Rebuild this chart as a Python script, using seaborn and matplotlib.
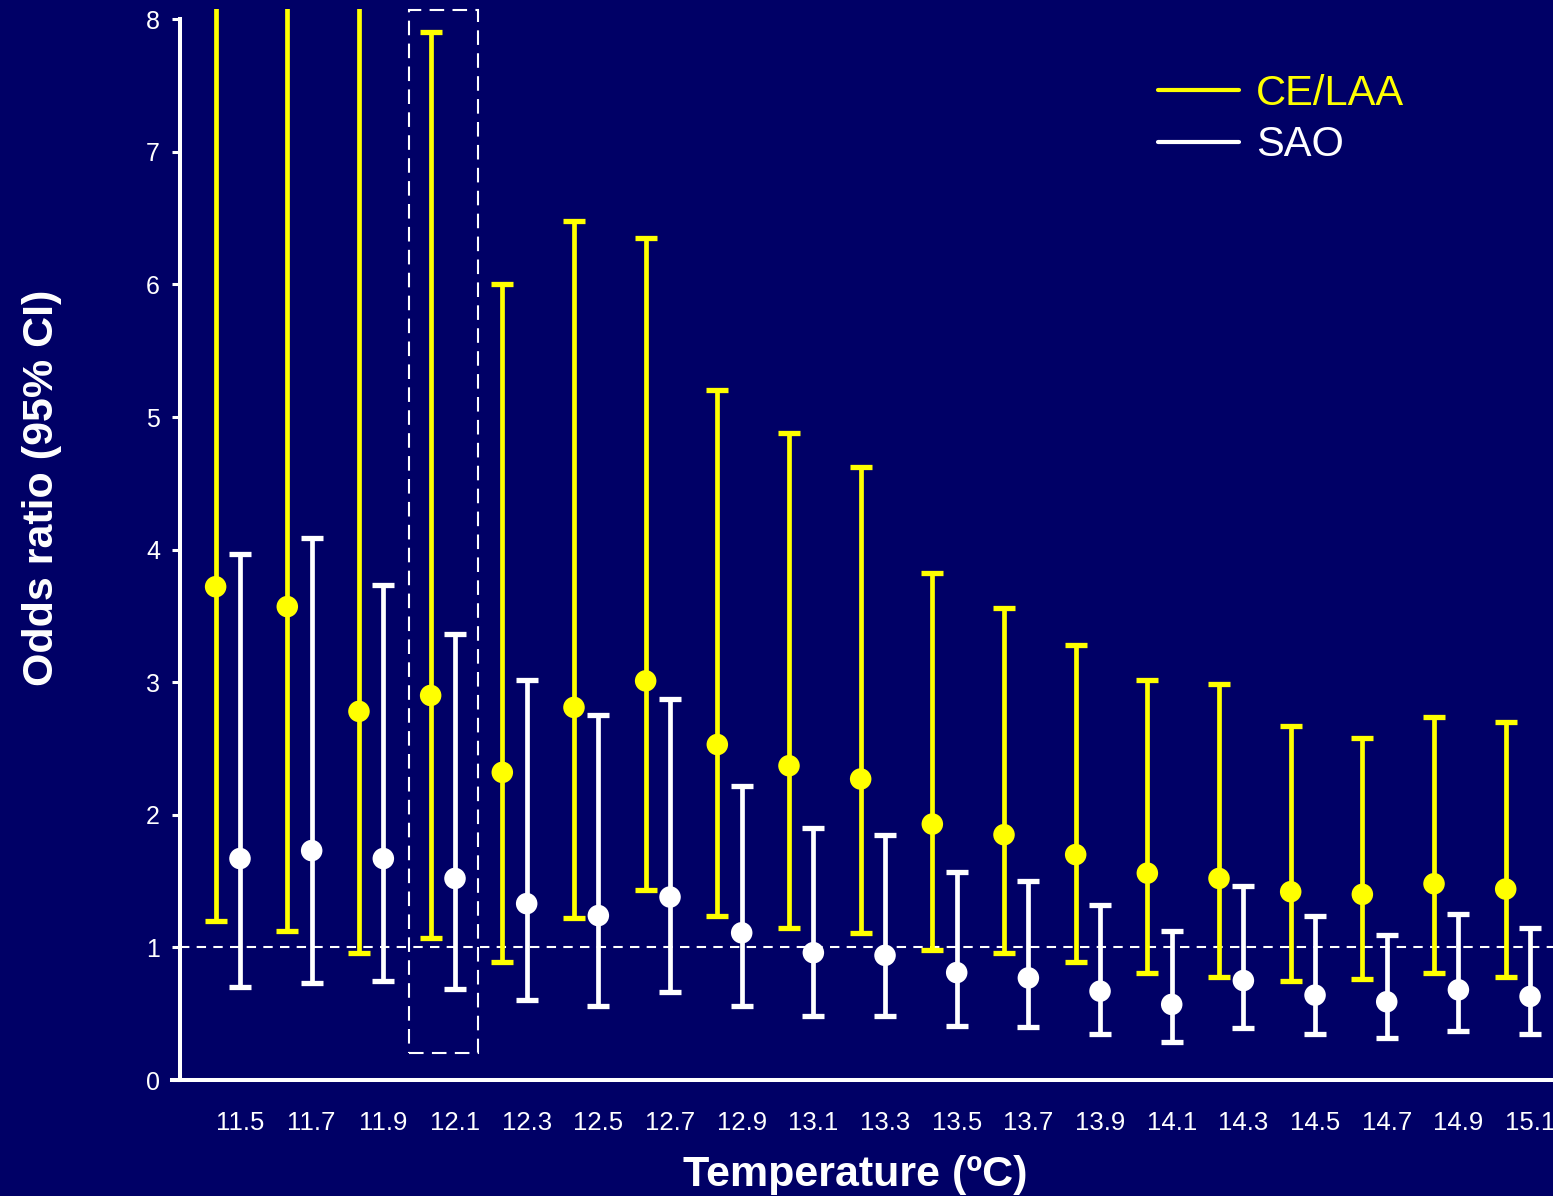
import pandas as pd
import seaborn as sns
import matplotlib.pyplot as plt
from matplotlib.lines import Line2D
from matplotlib.patches import Rectangle

# data
temps = ['11.5', '11.7', '11.9', '12.1', '12.3', '12.5', '12.7', '12.9', '13.1', '13.3',
         '13.5', '13.7', '13.9', '14.1', '14.3', '14.5', '14.7', '14.9', '15.1']

ce_or = [3.72, 3.57, 2.78, 2.90, 2.32, 2.81, 3.01, 2.53, 2.37, 2.27,
         1.93, 1.85, 1.70, 1.56, 1.52, 1.42, 1.40, 1.48, 1.44]
ce_lo = [1.20, 1.12, 0.96, 1.07, 0.89, 1.22, 1.43, 1.24, 1.15, 1.11,
         0.98, 0.96, 0.89, 0.81, 0.78, 0.75, 0.76, 0.81, 0.78]
# first three upper limits run off the top of the chart
ce_hi = [9.6, 10.3, 11.0, 7.90, 6.00, 6.48, 6.35, 5.20, 4.88, 4.62,
         3.82, 3.56, 3.28, 3.02, 2.99, 2.67, 2.58, 2.74, 2.70]

sao_or = [1.67, 1.73, 1.67, 1.52, 1.33, 1.24, 1.38, 1.11, 0.96, 0.94,
          0.81, 0.77, 0.67, 0.57, 0.75, 0.64, 0.59, 0.68, 0.63]
sao_lo = [0.70, 0.73, 0.75, 0.69, 0.60, 0.56, 0.66, 0.56, 0.48, 0.48,
          0.41, 0.40, 0.35, 0.29, 0.39, 0.35, 0.32, 0.37, 0.35]
sao_hi = [3.97, 4.09, 3.73, 3.36, 3.02, 2.75, 2.87, 2.22, 1.90, 1.85,
          1.57, 1.50, 1.32, 1.12, 1.46, 1.24, 1.09, 1.25, 1.15]

groups = ['CE/LAA', 'SAO']
colors = {'CE/LAA': '#FFFF00', 'SAO': '#FFFFFF'}
offsets = {'CE/LAA': -0.34, 'SAO': 0.0}
highlight = '12.1'

bg = '#000066'

rows = []
for i, t in enumerate(temps):
    rows.append({'temp': t, 'group': 'CE/LAA', 'pos': i + offsets['CE/LAA'],
                 'odds': ce_or[i], 'lo': ce_lo[i], 'hi': ce_hi[i]})
    rows.append({'temp': t, 'group': 'SAO', 'pos': i + offsets['SAO'],
                 'odds': sao_or[i], 'lo': sao_lo[i], 'hi': sao_hi[i]})
df = pd.DataFrame(rows)

sns.set_theme(style='white')
plt.rcParams['font.family'] = ['Liberation Sans', 'DejaVu Sans']

fig = plt.figure(figsize=(15.53, 11.96), dpi=100, facecolor=bg)
ax = fig.add_axes([180 / 1553, 116 / 1196, 1373 / 1553, 1071.4 / 1196])
ax.set_facecolor(bg)

# confidence intervals
for g in groups:
    sub = df[df['group'] == g]
    ax.errorbar(sub['pos'], sub['odds'],
                yerr=[sub['odds'] - sub['lo'], sub['hi'] - sub['odds']],
                fmt='none', ecolor=colors[g], elinewidth=3.4,
                capsize=7.8, capthick=3.8, zorder=3)

# point estimates
sns.scatterplot(data=df, x='pos', y='odds', hue='group', palette=colors,
                s=240, linewidth=0, legend=False, ax=ax, zorder=4)

# reference line at OR = 1
ax.axhline(1, color='white', lw=1.5, ls=(0, (4.5, 3.5)), zorder=2)

# dashed box around the highlighted temperature
hi_idx = temps.index(highlight)
ax.add_patch(Rectangle((hi_idx - 0.645, 0.20), 0.96, 7.87, fill=False,
                       edgecolor='white', lw=1.5, ls=(0, (7, 4)),
                       clip_on=False, zorder=2))

ax.set_xlim(-0.837, 18.32)
ax.set_ylim(0, 8.08)
ax.set_xticks(range(len(temps)))
ax.set_xticklabels(temps)
ax.set_yticks(range(0, 9))

for side in ['top', 'right']:
    ax.spines[side].set_visible(False)
for side in ['left', 'bottom']:
    ax.spines[side].set_color('white')
    ax.spines[side].set_linewidth(2.9)
ax.spines['left'].set_bounds(0, 8)
ax.spines['bottom'].set_bounds(-0.95, 18.32)

ax.tick_params(axis='x', length=0, pad=22, labelsize=18.5, labelcolor='white')
ax.tick_params(axis='y', left=True, length=5.8, width=2.2, color='white',
               pad=8.6, labelsize=18, labelcolor='white')

ax.set_xlabel('Temperature (ºC)', fontsize=31, fontweight='bold', color='white')
ax.set_ylabel('Odds ratio (95% CI)', fontsize=31, fontweight='bold', color='white')
ax.xaxis.set_label_coords(0.4916, -0.070)
ax.yaxis.set_label_coords(-0.086, 0.553)

handles = [Line2D([0], [0], color=colors[g], lw=3) for g in groups]
ax.legend(handles, groups, loc='upper left',
          bbox_to_anchor=(1158 / 1553, 1 - 74 / 1196),
          bbox_transform=fig.transFigure, frameon=False, fontsize=30,
          handlelength=1.95, handletextpad=0.4, labelspacing=0.27,
          borderpad=0, borderaxespad=0, labelcolor='linecolor')

fig.savefig('out.png', dpi=100, facecolor=bg)
